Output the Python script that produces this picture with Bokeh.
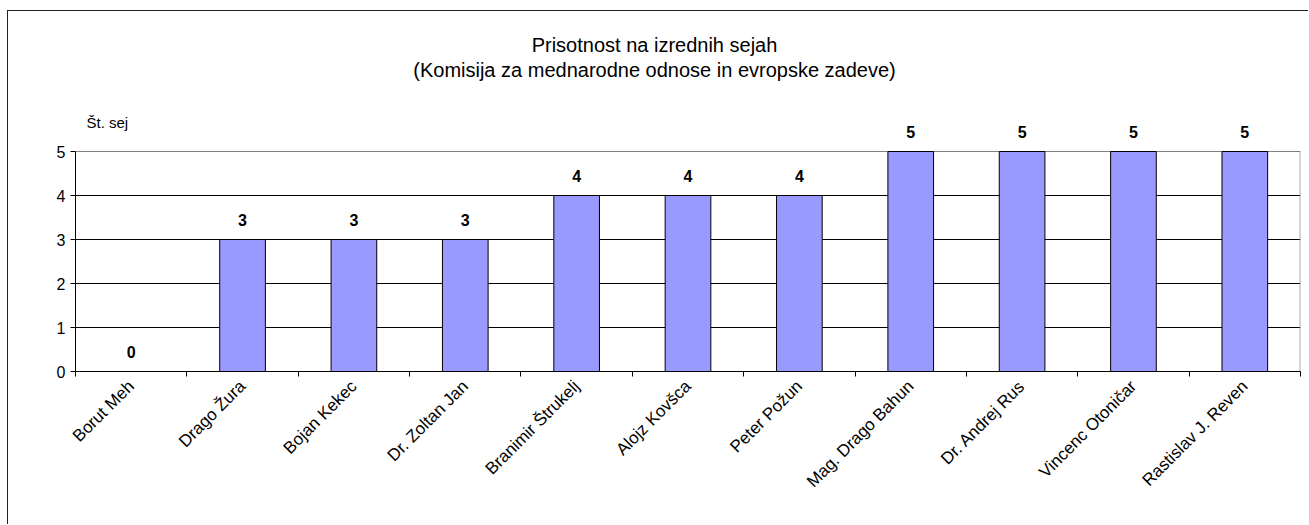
import math
from bokeh.plotting import figure
from bokeh.models import ColumnDataSource, FixedTicker, Range1d, LabelSet, Label
from bokeh.core.properties import value
from bokeh.embed import file_html
from bokeh.resources import INLINE

names = ["Borut Meh", "Drago Žura", "Bojan Kekec", "Dr. Zoltan Jan", "Branimir Štrukelj",
         "Alojz Kovšca", "Peter Požun", "Mag. Drago Bahun", "Dr. Andrej Rus",
         "Vincenc Otoničar", "Rastislav J. Reven"]
values = [0, 3, 3, 3, 4, 4, 4, 5, 5, 5, 5]
y_ticks = [0, 1, 2, 3, 4, 5]
title_lines = ["Prisotnost na izrednih sejah", "(Komisija za mednarodne odnose in evropske zadeve)"]
y_label = "Št. sej"

FONT = "Liberation Sans"
n = len(names)
ymax = y_ticks[-1]
xs = [i + 0.5 for i in range(n)]

# pixel geometry of the plotting frame (image coords)
FR_L, FR_R, Y0, Y5, FR_T = 75, 1300, 371, 151, 25
px_x = (FR_R - FR_L) / n
px_y = (Y0 - Y5) / ymax

src = ColumnDataSource(dict(x=xs, top=values, lab=[str(v) for v in values]))

p = figure(width=1301, height=514, output_backend="svg", toolbar_location=None,
           x_range=Range1d(0, n), y_range=Range1d(0, ymax + (Y5 - FR_T) / px_y),
           min_border_left=67, min_border_right=9, min_border_top=14, min_border_bottom=154)
p.styles = {"margin-left": "7px", "margin-top": "10px",
            "border-left": "1px solid #222", "border-top": "1px solid #222"}
p.background_fill_color = "white"
p.border_fill_color = "white"
p.outline_line_color = None

# grid lines 1..4 black, top (5) and right edge gray like the plot-area border
p.xgrid.grid_line_color = None
p.ygrid.ticker = FixedTicker(ticks=y_ticks[1:-1])
p.ygrid.grid_line_color = "black"
p.ygrid.grid_line_width = 1
p.segment(x0=[0, n - 0.003], y0=[ymax, 0], x1=[n, n - 0.003], y1=[ymax, ymax],
          line_color="#808080", line_width=1)

p.vbar(x="x", top="top", bottom=0, width=0.41, source=src,
       fill_color="#9999FF", line_color="black", line_width=1)

labels = LabelSet(x="x", y="top", text="lab", source=src, y_offset=20,
                  text_align="center", text_baseline="middle",
                  text_font=value(FONT), text_font_size=value("16px"),
                  text_font_style=value("bold"), text_color=value("black"))
p.add_layout(labels)

# axes
p.xaxis.ticker = FixedTicker(ticks=xs, minor_ticks=list(range(n + 1)))
p.xaxis.major_label_overrides = {x: nm for x, nm in zip(xs, names)}
p.xaxis.major_label_orientation = math.pi / 4
p.xaxis.major_tick_line_color = None
p.xaxis.major_tick_out = 5
p.xaxis.minor_tick_line_color = "black"
p.xaxis.minor_tick_in = 0
p.xaxis.minor_tick_out = 5
p.xaxis.axis_line_color = "black"
p.xaxis.major_label_text_font = FONT
p.xaxis.major_label_text_font_size = "17px"
p.xaxis.major_label_text_color = "black"
p.xaxis.major_label_standoff = 7

p.yaxis.ticker = FixedTicker(ticks=y_ticks)
p.yaxis.bounds = (0, ymax)
p.yaxis.axis_line_color = "black"
p.yaxis.major_tick_in = 0
p.yaxis.major_tick_out = 5
p.yaxis.minor_tick_line_color = None
p.yaxis.major_label_text_font = FONT
p.yaxis.major_label_text_font_size = "16px"
p.yaxis.major_label_text_color = "black"
p.yaxis.major_label_standoff = 5

# titles and axis caption
cx = (654 - FR_L) / px_x
for line, ypix in zip(title_lines, [44, 69]):
    p.add_layout(Label(x=cx, y=(Y0 - ypix) / px_y, text=line, text_align="center",
                       text_baseline="middle", text_font=FONT, text_font_size="20px",
                       text_color="black"))
p.add_layout(Label(x=(86 - FR_L) / px_x, y=(Y0 - 122) / px_y, text=y_label,
                   text_align="left", text_baseline="middle", text_font=FONT,
                   text_font_size="15px", text_color="black"))

open("out.html", "w").write(file_html(p, INLINE))
